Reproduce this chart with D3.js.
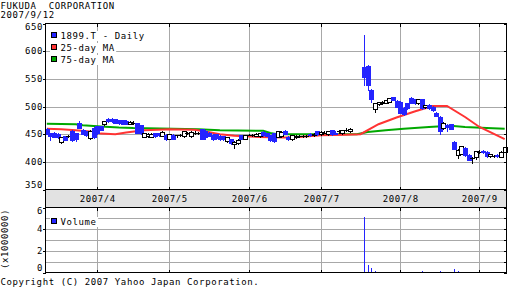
<!DOCTYPE html>
<html>
<head>
<meta charset="utf-8">
<script src="https://cdn.jsdelivr.net/npm/d3@7"></script>
<style>
  body { margin: 0; background: #fff; }
  svg text { font-family: "DejaVu Sans Mono", monospace; font-size: 9px; letter-spacing: 0.6px; fill: #000; }
</style>
</head>
<body>
<svg id="chart" width="512" height="288"></svg>
<script>
// chart data (prices in yen, volume in millions of shares)
const title = "FUKUDA  CORPORATION";
const asOf = "2007/9/12";
const seriesName = "1899.T - Daily";
const copyright = "Copyright (C) 2007 Yahoo Japan Corporation.";

const monthLabels = ["2007/4", "2007/5", "2007/6", "2007/7", "2007/8", "2007/9"];
const monthStart = [14, 34, 56, 76, 98, 120]; // trading-day index of first day of month
const priceTicks = [350, 400, 450, 500, 550, 600, 650];
const volTicks = [0, 2, 4, 6];

// one entry per trading day, null = no trade
const opens = [459,452,453,450,435,446,446,456,452,470,458,455,443,462,464,464,468,478,478,477,
  475,475,474,469,471,470,466,445,446,445,452,452,447,449,442,449,448,448,446,452,
  446,452,453,459,456,453,449,450,447,446,437,441,433,434,448,442,449,449,447,446,
  454,452,448,452,445,446,456,444,441,444,447,446,447,451,448,455,450,453,450,457,
  453,455,452,458,455,null,null,null,572,573,530,495,504,506,507,509,517,510,509,498,
  506,516,513,506,513,500,503,500,489,481,462,467,468,436,412,415,425,413,407,409,
  418,420,418,411,410,413,409,418];
const highs = [461,453,454,452,445,447,448,457,453,473,460,456,457,463,465,465,474,479,479,478,
  476,476,475,473,473,471,467,453,452,452,453,453,455,450,451,450,449,450,456,454,
  455,455,454,460,458,454,450,451,448,447,445,442,437,441,449,449,451,450,452,453,
  455,453,449,453,456,455,457,446,449,448,449,448,449,452,452,456,455,456,456,458,
  455,458,458,461,461,null,null,null,630,575,531,507,509,510,512,516,518,511,510,500,
  507,517,514,514,514,503,504,501,490,482,472,469,469,437,423,429,426,414,409,420,
  421,421,419,415,412,414,419,427];
const lows = [450,439,444,443,434,439,444,437,437,461,450,447,442,443,451,457,467,472,472,470,
  469,468,468,468,468,452,451,444,445,444,445,447,446,440,441,441,444,446,445,450,
  445,450,451,441,442,446,440,441,440,440,436,433,425,433,441,441,448,447,446,445,
  447,446,438,436,444,445,450,440,440,443,445,444,445,447,447,449,449,452,449,449,
  450,453,451,456,454,null,null,null,539,530,509,490,502,504,506,508,511,499,488,484,
  496,506,505,504,496,498,496,492,482,450,460,455,459,423,407,414,411,403,398,405,
  416,416,409,409,408,409,408,417];
const closes = [451,447,445,444,444,440,446,440,441,462,451,448,456,444,452,458,473,473,474,471,
  470,469,469,472,471,453,453,452,450,451,446,448,454,441,450,442,448,448,455,452,
  454,452,453,442,444,447,441,443,441,441,444,434,436,440,442,448,449,449,451,452,
  448,447,439,438,455,454,451,442,448,447,447,446,447,448,451,450,454,453,455,450,
  451,455,457,458,460,null,null,null,553,538,513,506,508,509,511,515,512,500,489,487,
  497,507,506,513,497,502,497,493,483,455,471,463,460,424,422,428,412,404,407,419,
  418,418,410,414,410,410,418,426];
const volumes = [0.02,0.02,0.01,0.02,0.02,0.01,0.01,0.02,0.02,0.03,0.02,0.01,0.02,0.02,0.02,0.01,0.02,0.03,0.02,0.01,
  0.01,0.02,0.01,0.01,0.01,0.02,0.02,0.01,0.01,0.01,0.01,0.01,0.02,0.02,0.01,0.01,0.01,0.01,0.02,0.01,
  0.01,0.01,0.01,0.02,0.02,0.01,0.01,0.01,0.01,0.01,0.01,0.02,0.02,0.01,0.01,0.01,0.01,0.01,0.01,0.01,
  0.01,0.01,0.02,0.02,0.01,0.01,0.01,0.01,0.01,0.01,0.01,0.01,0.01,0.01,0.01,0.01,0.01,0.01,0.01,0.01,
  0.01,0.01,0.01,0.01,0.02,null,null,null,5.1,0.6,0.35,0.12,0.04,0.03,0.03,0.03,0.03,0.03,0.04,0.03,
  0.03,0.03,0.02,0.03,0.08,0.03,0.02,0.02,0.03,0.08,0.04,0.03,0.02,0.28,0.09,0.04,0.03,0.03,0.03,0.02,
  0.02,0.02,0.02,0.02,0.01,0.02,0.02,0.02];

// moving averages as [trading-day index, yen]
const ma25 = [[0,460],[4,459],[8,457],[12,455],[15,451],[19,450],[22,453],[27,457],[34,459],[41,458],
  [44,455],[48,450],[52,447],[59,445],[66,444],[70,445],[76,448],[83,449],[87,450],[92,468],
  [97,480],[102,491],[107,501],[111,501],[116,481],[120,463],[127,441]];
const ma75 = [[0,469],[8,468],[10,466],[15,464],[20,462],[24,461],[35,460],[42,459],[48,457],[60,456],
  [62,452],[64,450],[76,450],[86,450],[89,454],[94,457],[99,460],[106,463],[112,465],[116,463],
  [122,461],[127,460]];

const BLUE = "#2424ff", RED = "#ff3333", GREEN = "#00a800", GRID = "#a8a8a8";

const svg = d3.select("#chart");
const L = 45.5, R = 506.5;
const mainTop = 23.5, mainBot = 189.5, volTop = 207.5, volBot = 272.5;

const days = d3.range(opens.length);
const x = d3.scaleBand().domain(days).range([45, 506.5]);
const cx = i => Math.round(x(i) + x.bandwidth() / 2);
const y = d3.scaleLinear().domain([350, 650]).range([mainBot, mainTop]);
const yv = d3.scaleLinear().domain([0, 6]).range([volBot, volTop]);

// ----- title
svg.append("text").attr("x", 0.5).attr("y", 9).text(title).style("white-space", "pre");
svg.append("text").attr("x", 0.5).attr("y", 17.5).text(asOf);

// ----- band between panels
svg.append("rect").attr("x", L).attr("y", mainBot).attr("width", R - L).attr("height", volTop - mainBot)
  .attr("fill", "#e2e2e2");

// ----- grid
const grid = svg.append("g").attr("stroke", GRID).attr("shape-rendering", "crispEdges");
priceTicks.filter(v => v > 350 && v < 650).forEach(v => {
  const yy = Math.round(y(v)) + 0.5;
  grid.append("line").attr("x1", L).attr("x2", R).attr("y1", yy).attr("y2", yy);
});
d3.range(1, 6).forEach(v => {
  const yy = Math.round(yv(v)) + 0.5;
  grid.append("line").attr("x1", L).attr("x2", R).attr("y1", yy).attr("y2", yy);
});
monthStart.forEach(i => {
  const xx = cx(i) + 0.5;
  grid.append("line").attr("x1", xx).attr("x2", xx).attr("y1", mainTop).attr("y2", mainBot);
  grid.append("line").attr("x1", xx).attr("x2", xx).attr("y1", volTop).attr("y2", volBot);
});

// small black ticks on the panel edges
const ticks = svg.append("g").attr("stroke", "#000").attr("shape-rendering", "crispEdges");
priceTicks.forEach(v => {
  const yy = Math.round(y(v)) + 0.5;
  ticks.append("line").attr("x1", L - 3).attr("x2", L).attr("y1", yy).attr("y2", yy);
  ticks.append("line").attr("x1", R - 3).attr("x2", R).attr("y1", yy).attr("y2", yy);
});
d3.range(0, 7).forEach(v => {
  const yy = Math.round(yv(v)) + 0.5;
  if (v % 2 === 0) ticks.append("line").attr("x1", L - 3).attr("x2", L).attr("y1", yy).attr("y2", yy);
  ticks.append("line").attr("x1", R - 3).attr("x2", R).attr("y1", yy).attr("y2", yy);
});
monthStart.forEach(i => {
  const xx = cx(i) + 0.5;
  [[mainTop, mainTop + 3], [mainBot - 3, mainBot], [volTop, volTop + 3], [volBot - 3, volBot]].forEach(([a, b]) =>
    ticks.append("line").attr("x1", xx).attr("x2", xx).attr("y1", a).attr("y2", b));
});

// ----- moving averages
const line = d3.line().x(d => x(d[0]) + x.bandwidth() / 2).y(d => y(d[1]));
svg.append("path").datum(ma75).attr("d", line).attr("fill", "none").attr("stroke", GREEN).attr("stroke-width", 2);
svg.append("path").datum(ma25).attr("d", line).attr("fill", "none").attr("stroke", RED).attr("stroke-width", 2);

// ----- candles
const candles = svg.append("g").attr("shape-rendering", "crispEdges");
days.forEach(i => {
  const o = opens[i], h = highs[i], l = lows[i], c = closes[i];
  if (o == null) return;
  const xc = cx(i);
  const up = c > o, down = c < o;
  const col = down ? BLUE : "#000";
  candles.append("line").attr("x1", xc + 0.5).attr("x2", xc + 0.5)
    .attr("y1", Math.round(y(h))).attr("y2", Math.round(y(l)) + 1).attr("stroke", col);
  const top = Math.round(y(Math.max(o, c))), bot = Math.round(y(Math.min(o, c)));
  if (down) {
    candles.append("rect").attr("x", xc - 2).attr("y", top).attr("width", 5).attr("height", Math.max(1, bot - top + 1))
      .attr("fill", BLUE);
  } else if (up) {
    candles.append("rect").attr("x", xc - 1.5).attr("y", top + 0.5).attr("width", 4).attr("height", Math.max(1, bot - top))
      .attr("fill", "#fff").attr("stroke", "#000");
  } else {
    candles.append("line").attr("x1", xc - 2).attr("x2", xc + 3).attr("y1", top + 0.5).attr("y2", top + 0.5)
      .attr("stroke", "#000");
  }
});

// ----- volume
const vbars = svg.append("g").attr("shape-rendering", "crispEdges");
days.forEach(i => {
  const v = volumes[i];
  if (v == null) return;
  const hgt = Math.round(volBot - yv(v));
  if (hgt < 1) return;
  vbars.append("rect").attr("x", cx(i)).attr("y", Math.floor(volBot) - hgt).attr("width", 1).attr("height", hgt)
    .attr("fill", BLUE);
});

// ----- panel borders
const borders = svg.append("g").attr("fill", "none").attr("stroke", "#000").attr("shape-rendering", "crispEdges");
borders.append("rect").attr("x", L).attr("y", mainTop).attr("width", R - L).attr("height", mainBot - mainTop);
borders.append("rect").attr("x", L).attr("y", mainBot).attr("width", R - L).attr("height", volTop - mainBot);
borders.append("rect").attr("x", L).attr("y", volTop).attr("width", R - L).attr("height", volBot - volTop);

// ----- axis labels
priceTicks.forEach(v => {
  const yy = Math.min(Math.max(y(v), mainTop + 3), mainBot - 5);
  svg.append("text").attr("x", 43).attr("y", yy).attr("dy", "0.35em").attr("text-anchor", "end").text(v);
});
volTicks.forEach(v => {
  const yy = Math.min(Math.max(yv(v), volTop + 3.3), volBot - 4.8);
  svg.append("text").attr("x", 43).attr("y", yy).attr("dy", "0.35em").attr("text-anchor", "end").text(v);
});
monthLabels.forEach((m, k) => {
  svg.append("text").attr("x", cx(monthStart[k]) + 0.8).attr("y", (mainBot + volTop) / 2).attr("dy", "0.35em")
    .attr("text-anchor", "middle").text(m);
});
svg.append("text").attr("transform", `translate(5,${(volTop + volBot) / 2 - 1}) rotate(-90)`).attr("dy", "0.35em")
  .attr("text-anchor", "middle").text("(x1000000)");

// ----- legends
function legendItem(yTop, color, label) {
  const g = svg.append("g");
  const bg = g.append("rect").attr("fill", "#fff");
  g.append("rect").attr("x", 51.5).attr("y", yTop + 0.5).attr("width", 5).attr("height", 5)
    .attr("fill", color).attr("stroke", "#000").attr("shape-rendering", "crispEdges");
  const t = g.append("text").attr("x", 60.5).attr("y", yTop + 6.5).text(label);
  const w = t.node().getComputedTextLength();
  bg.attr("x", 50).attr("y", yTop - 1).attr("width", w + 12).attr("height", 10);
}
legendItem(32, BLUE, seriesName);
legendItem(44, RED, "25-day MA");
legendItem(56, GREEN, "75-day MA");
legendItem(218, BLUE, "Volume");

// ----- footer
svg.append("text").attr("x", 0.5).attr("y", 285).text(copyright);
</script>
</body>
</html>
